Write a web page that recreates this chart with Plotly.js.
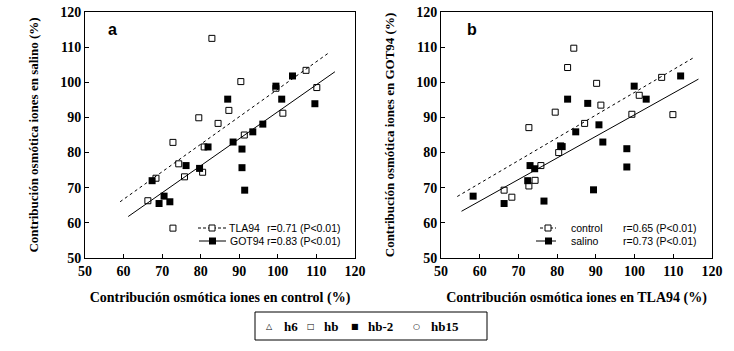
<!DOCTYPE html>
<html>
<head>
<meta charset="utf-8">
<script src="https://cdn.plot.ly/plotly-3.0.1.min.js"></script>
<style>html,body{margin:0;padding:0;background:#fff;}#chart{width:734px;height:351px;}</style>
</head>
<body>
<div id="chart"></div>
<script>
// Panel a: x = control, y = salino
const aTLA94X = [82.9,107.3,90.4,110.1,99.5,87.3,79.5,84.5,101.3,91.3,72.8,80.9,74.3,75.8,80.5,68.4,66.3,72.8];
const aTLA94Y = [112.5,103.4,100.2,98.5,98.3,92.0,89.9,88.3,91.2,85.0,82.9,81.6,76.8,73.1,74.4,72.7,66.3,58.5];
const aGOT94X = [103.8,99.5,87.0,101.0,109.6,96.1,93.5,88.4,81.9,90.7,76.2,79.7,90.7,67.4,70.5,69.2,72.0,91.4];
const aGOT94Y = [101.8,98.9,95.2,95.2,93.9,88.1,85.9,83.0,81.6,81.0,76.3,75.5,75.7,72.0,67.6,65.5,66.0,69.3];
const aFitTLAX = [59.1,113.1], aFitTLAY = [66.0,108.3];
const aFitGOTX = [61.2,114.8], aFitGOTY = [61.8,103.0];
// Panel b: x = TLA94, y = GOT94
const bControlX = [84.3,82.7,107.0,90.2,101.2,91.3,79.5,99.3,109.9,72.7,87.1,80.4,75.8,74.3,72.7,66.3,68.3];
const bControlY = [109.7,104.2,101.4,99.7,96.3,93.5,91.5,90.9,90.8,87.1,88.3,80.0,76.3,72.1,70.5,69.3,67.3];
const bSalinoX = [111.9,99.9,103.0,82.7,87.9,90.8,84.8,91.8,80.9,81.3,98.0,73.0,74.2,72.4,98.0,58.3,66.3,76.6,89.4];
const bSalinoY = [101.8,98.9,95.2,95.2,94.0,87.9,85.9,83.0,81.9,81.7,81.1,76.3,75.4,72.0,75.9,67.6,65.5,66.2,69.4];
const bFitCtrlX = [54.2,115.4], bFitCtrlY = [67.5,107.1];
const bFitSalX = [55.3,116.5], bFitSalY = [63.3,100.9];
// Texts
const panelLabels = ['a','b'];
const seriesA = ['TLA94','GOT94'];
const statsA = ['r=0.71 (P<0.01)','r=0.83 (P<0.01)'];
const seriesB = ['control','salino'];
const statsB = ['r=0.65 (P<0.01)','r=0.73 (P<0.01)'];
const keyLabels = ['h6','hb','hb-2','hb15'];
const keySymbols = ['\u25B3','\u25A1','\u25A0','\u25CB'];
const xTitles = ['Contribución osmótica iones en control (%)','Contribución osmótica iones en TLA94 (%)'];
const yTitles = ['Contribución osmótica iones en salino (%)','Contribución osmótica iones en GOT94 (%)'];

const W=734,H=351,ML=85,MR=22,MT=12,MB=93;
const PW=W-ML-MR, PH=H-MT-MB;
const PX = p => (p-ML)/PW;
const PY = p => (H-MB-p)/PH;

const serif = {family:'Liberation Serif, Times New Roman, serif', size:14, color:'#000', weight:'bold'};
const sans = {family:'Liberation Sans, Arial, sans-serif', size:10.5, color:'#000'};

function openSq(x,y,xa,ya){return {x,y,xaxis:xa,yaxis:ya,type:'scatter',mode:'markers',showlegend:false,
  marker:{symbol:'square-open',size:6,color:'#000',line:{width:1,color:'#000'}}};}
function fillSq(x,y,xa,ya){return {x,y,xaxis:xa,yaxis:ya,type:'scatter',mode:'markers',showlegend:false,
  marker:{symbol:'square',size:7,color:'#000'}};}
function fit(x,y,xa,ya,dash){return {x,y,xaxis:xa,yaxis:ya,type:'scatter',mode:'lines',showlegend:false,
  line:{color:'#000',width:1,dash:dash}};}

const data = [
  fit(aFitTLAX,aFitTLAY,'x','y','3px,3px'),
  fit(aFitGOTX,aFitGOTY,'x','y','solid'),
  openSq(aTLA94X,aTLA94Y,'x','y'),
  fillSq(aGOT94X,aGOT94Y,'x','y'),
  fit(bFitCtrlX,bFitCtrlY,'x2','y2','3px,3px'),
  fit(bFitSalX,bFitSalY,'x2','y2','solid'),
  openSq(bControlX,bControlY,'x2','y2'),
  fillSq(bSalinoX,bSalinoY,'x2','y2'),
];

function xax(domain,anchor,title){return {domain,anchor,range:[50,120],dtick:10,tick0:50,ticks:'inside',ticklen:4,
  tickcolor:'#000',showline:true,mirror:true,linecolor:'#000',linewidth:1,showgrid:false,zeroline:false,
  tickfont:serif,title:{text:title,font:serif,standoff:14}};}
function yax(anchor,title){return {domain:[0,1],anchor,range:[50,120],dtick:10,tick0:50,ticks:'inside',ticklen:4,
  tickcolor:'#000',showline:true,mirror:true,linecolor:'#000',linewidth:1,showgrid:false,zeroline:false,
  tickfont:serif,title:{text:title,font:Object.assign({},serif,{size:13}),standoff:18}};}

const annotations = [];
const shapes = [];
function txt(x,y,t,font,xanchor,xref,yref){annotations.push({x,y,xref:xref||'paper',yref:yref||'paper',text:t,showarrow:false,
  font,xanchor:xanchor||'left',yanchor:'middle'});}

// panel letters
txt(PX(112),PY(30),panelLabels[0],{family:'Liberation Sans, Arial, sans-serif',size:16,color:'#000',weight:'bold'},'center');
txt(PX(472),PY(30),panelLabels[1],{family:'Liberation Sans, Arial, sans-serif',size:16,color:'#000',weight:'bold'},'center');

// inner legend a
const aRows=[228,241];
shapes.push({type:'line',xref:'paper',yref:'paper',x0:PX(198),x1:PX(226),y0:PY(aRows[0]),y1:PY(aRows[0]),line:{color:'#000',width:1,dash:'3px,2px'}});
shapes.push({type:'rect',xref:'paper',yref:'paper',x0:PX(209),x1:PX(215),y0:PY(aRows[0]-3),y1:PY(aRows[0]+3),line:{color:'#000',width:1},fillcolor:'#fff'});
shapes.push({type:'line',xref:'paper',yref:'paper',x0:PX(199),x1:PX(226),y0:PY(aRows[1]),y1:PY(aRows[1]),line:{color:'#000',width:1}});
shapes.push({type:'rect',xref:'paper',yref:'paper',x0:PX(209),x1:PX(216),y0:PY(aRows[1]-3.5),y1:PY(aRows[1]+3.5),line:{color:'#000',width:0},fillcolor:'#000'});
txt(PX(227),PY(aRows[0]),seriesA[0],sans);
txt(PX(228),PY(aRows[1]),seriesA[1],sans);
txt(PX(265),PY(aRows[0]),statsA[0],sans);
txt(PX(265),PY(aRows[1]),statsA[1],sans);

// inner legend b
const bRows=[228,241];
shapes.push({type:'line',xref:'paper',yref:'paper',x0:PX(540),x1:PX(556),y0:PY(bRows[0]),y1:PY(bRows[0]),line:{color:'#000',width:1,dash:'3px,2px'}});
shapes.push({type:'rect',xref:'paper',yref:'paper',x0:PX(545),x1:PX(551),y0:PY(bRows[0]-3),y1:PY(bRows[0]+3),line:{color:'#000',width:1},fillcolor:'#fff'});
shapes.push({type:'line',xref:'paper',yref:'paper',x0:PX(536),x1:PX(556),y0:PY(bRows[1]),y1:PY(bRows[1]),line:{color:'#000',width:1}});
shapes.push({type:'rect',xref:'paper',yref:'paper',x0:PX(545),x1:PX(552),y0:PY(bRows[1]-3.5),y1:PY(bRows[1]+3.5),line:{color:'#000',width:0},fillcolor:'#000'});
txt(PX(569),PY(bRows[0]),seriesB[0],sans);
txt(PX(569),PY(bRows[1]),seriesB[1],sans);
txt(PX(621),PY(bRows[0]),statsB[0],sans);
txt(PX(621),PY(bRows[1]),statsB[1],sans);

// bottom key
shapes.push({type:'rect',xref:'paper',yref:'paper',x0:PX(255),x1:PX(487),y0:PY(312),y1:PY(340),line:{color:'#000',width:1},fillcolor:'rgba(0,0,0,0)'});
const symX=[269,311,355,416], labX=[282,322,366,429];
const symFont={family:'DejaVu Sans, sans-serif',size:8,color:'#000'};
const keyFont=Object.assign({},serif,{size:13});
for(let i=0;i<keyLabels.length;i++){
  txt(PX(symX[i]),PY(326),keySymbols[i],symFont,'center');
  txt(PX(labX[i]),PY(326),keyLabels[i],keyFont,'left');
}

const layout = {
  width:W,height:H,margin:{l:ML,r:MR,t:MT,b:MB,pad:0},
  paper_bgcolor:'#fff',plot_bgcolor:'#fff',showlegend:false,
  xaxis:xax([0,PX(355)],'y',xTitles[0]),
  yaxis:yax('x',yTitles[0]),
  xaxis2:xax([PX(441),1],'y2',xTitles[1]),
  yaxis2:yax('x2',yTitles[1]),
  annotations,shapes,
  font:{family:'Liberation Serif, serif',color:'#000'}
};
Plotly.newPlot('chart',data,layout,{displayModeBar:false,staticPlot:true});
</script>
</body>
</html>
